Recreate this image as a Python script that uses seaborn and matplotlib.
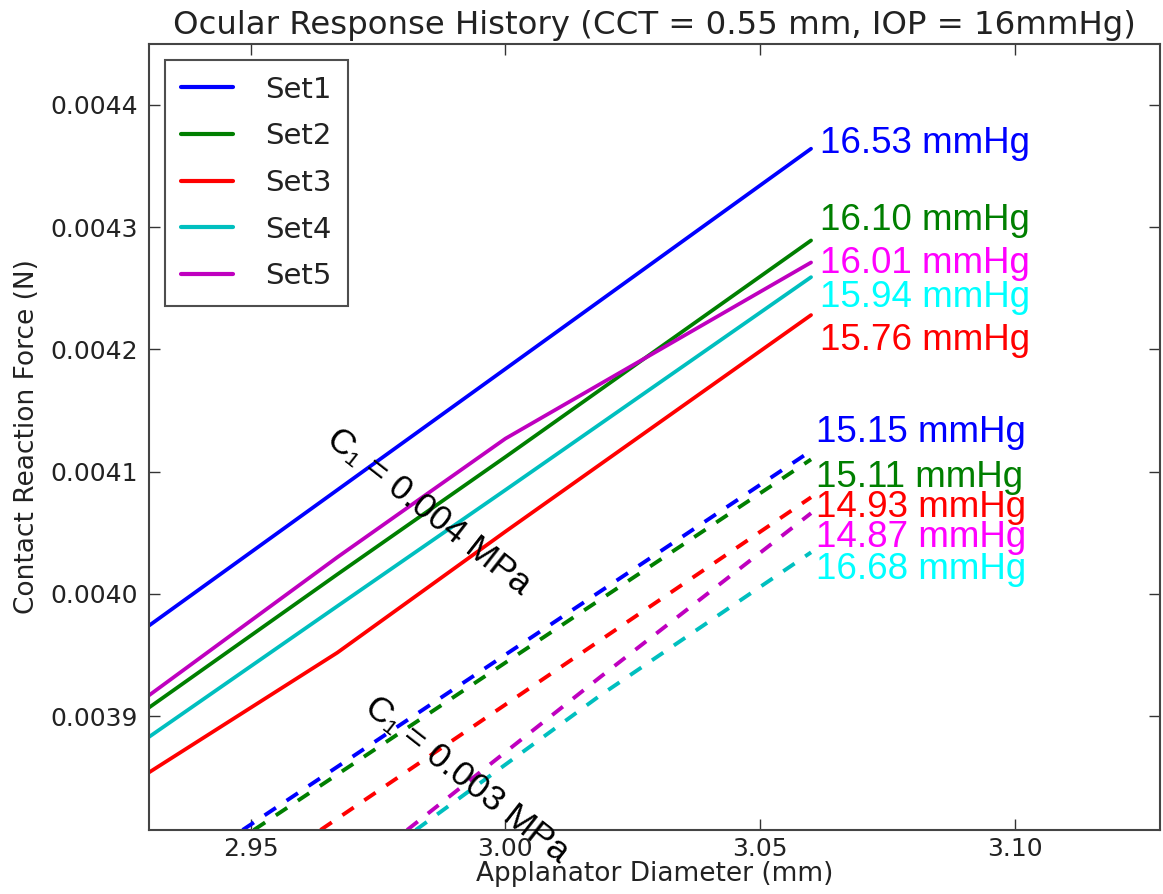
import numpy as np
import pandas as pd
import matplotlib
matplotlib.use("Agg")
import matplotlib.pyplot as plt
import seaborn as sns

# series names and colours (old matplotlib b, g, r, c, m)
sets = ["Set1", "Set2", "Set3", "Set4", "Set5"]
line_colors = ["#0000ff", "#007f00", "#ff0000", "#00bfbf", "#bf00bf"]
text_colors = ["#0000ff", "#007f00", "#ff0000", "#00ffff", "#ff00ff"]

# C1 = 0.004 MPa (solid lines)
x_solid = [2.93, 2.967, 3.00, 3.06]
f_set1 = [0.003974, 0.004085, 0.004184, 0.004364]
f_set2 = [0.003907, 0.004016, 0.004112, 0.004289]
f_set3 = [0.003854, 0.003952, 0.004051, 0.004228]
f_set4 = [0.003883, 0.003990, 0.004085, 0.004259]
f_set5 = [0.003917, 0.004030, 0.004127, 0.004271]

# C1 = 0.003 MPa (dashed lines)
xd_set1 = [2.9484, 3.06]
xd_set2 = [2.9506, 3.06]
xd_set3 = [2.9637, 3.06]
xd_set4 = [2.9824, 3.0186, 3.06]
xd_set5 = [2.9807, 3.0186, 3.06]
fd_set1 = [0.003807, 0.004117]
fd_set2 = [0.003807, 0.004110]
fd_set3 = [0.003807, 0.004079]
fd_set4 = [0.003807, 0.003917, 0.004034]
fd_set5 = [0.003807, 0.003932, 0.004066]

iop_solid = ["16.53", "16.10", "15.76", "15.94", "16.01"]
iop_dashed = ["15.15", "15.11", "14.93", "16.68", "14.87"]
label_y_solid = [0.004368, 0.004305, 0.004207, 0.004242, 0.004270]
label_y_dashed = [0.004132, 0.004095, 0.004071, 0.004020, 0.004046]

solid = pd.concat([
    pd.DataFrame({"d": x_solid, "f": f, "set": s})
    for s, f in zip(sets, [f_set1, f_set2, f_set3, f_set4, f_set5])
])
dashed = pd.concat([
    pd.DataFrame({"d": xd, "f": fd, "set": s})
    for s, xd, fd in zip(sets, [xd_set1, xd_set2, xd_set3, xd_set4, xd_set5],
                         [fd_set1, fd_set2, fd_set3, fd_set4, fd_set5])
])

sns.set_style("ticks")
plt.rcParams["font.family"] = ["DejaVu Sans"]

fig = plt.figure(figsize=(11.63, 8.94), dpi=100)
ax = fig.add_axes([0.128, 0.0716, 0.8694, 0.8797])

pal = dict(zip(sets, line_colors))
# dashed set first, without legend, then restyle exactly those lines
sns.lineplot(data=dashed, x="d", y="f", hue="set", palette=pal, estimator=None,
             sort=False, lw=2.8, ax=ax, legend=False)
for l in ax.get_lines():
    l.set_linestyle((0, (3.5, 3.3)))
sns.lineplot(data=solid, x="d", y="f", hue="set", palette=pal, estimator=None,
             sort=False, lw=2.7, ax=ax)

ax.set_xlim(2.93, 3.1285)
ax.set_ylim(0.003807, 0.00445)
ax.set_xticks([2.95, 3.00, 3.05, 3.10])
ax.set_yticks([0.0039, 0.0040, 0.0041, 0.0042, 0.0043, 0.0044])
ax.set_xticklabels(["2.95", "3.00", "3.05", "3.10"])
ax.set_yticklabels(["0.0039", "0.0040", "0.0041", "0.0042", "0.0043", "0.0044"])
ax.tick_params(direction="in", length=8, width=1, top=True, right=True,
               labelsize=18, colors="#333333", labelcolor="#222222")
ax.tick_params(axis="x", pad=5)
ax.tick_params(axis="y", pad=8)
for sp in ax.spines.values():
    sp.set_visible(True)
    sp.set_linewidth(1.5)
    sp.set_color("#444444")

ax.set_xlabel("Applanator Diameter (mm)", fontsize=19, color="#222222", labelpad=0)
ax.set_ylabel("Contact Reaction Force (N)", fontsize=19, color="#222222", labelpad=7)
ax.set_title("Ocular Response History (CCT = 0.55 mm, IOP = 16mmHg)",
             fontsize=23.3, color="#222222", pad=7)

lab_font = ["Liberation Sans", "DejaVu Sans"]
for i in range(5):
    ax.text(3.0618, label_y_solid[i], iop_solid[i] + " mmHg", color=text_colors[i],
            fontsize=26.5, family=lab_font, va="center", ha="left")
    ax.text(3.0610, label_y_dashed[i], iop_dashed[i] + " mmHg", color=text_colors[i],
            fontsize=26.5, family=lab_font, va="center", ha="left")

ax.text(2.9849, 0.004067, "C\u2081 = 0.004 MPa", fontsize=25.5, family=lab_font,
        color="black", rotation=-38, ha="center", va="center", rotation_mode="anchor")
ax.text(2.9925, 0.003848, "C\u2081 = 0.003 MPa", fontsize=25.5, family=lab_font,
        color="black", rotation=-38, ha="center", va="center", rotation_mode="anchor",
        clip_on=False)

leg = ax.legend(loc="upper left", fontsize=21, frameon=True, fancybox=False,
                handlelength=1.8, handletextpad=1.1, labelspacing=0.64,
                borderaxespad=0.55, borderpad=0.55)
leg.get_frame().set_edgecolor("#222222")
leg.get_frame().set_linewidth(1.5)
for t in leg.get_texts():
    t.set_color("#222222")
for h in leg.get_lines():
    h.set_linewidth(3)
    h.set_linestyle("-")

fig.savefig("out.png", dpi=100)
